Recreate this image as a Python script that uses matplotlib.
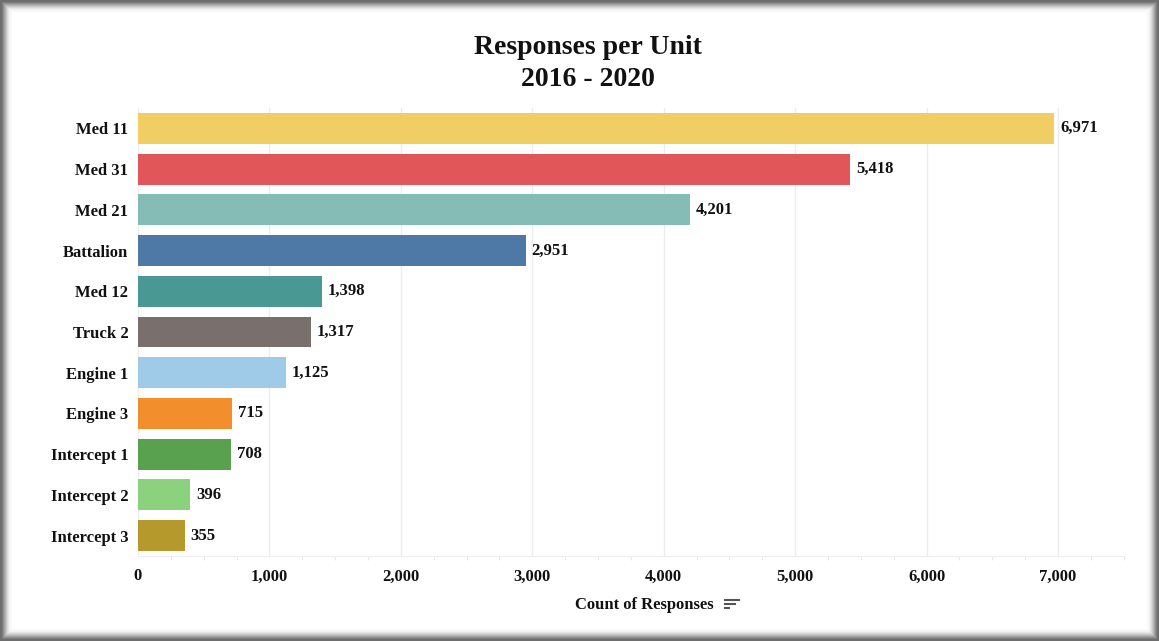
import matplotlib.pyplot as plt
import matplotlib.patches as mpatches
from matplotlib.ticker import FuncFormatter, MultipleLocator
import numpy as np

units = ['Med 11', 'Med 31', 'Med 21', 'Battalion', 'Med 12', 'Truck 2',
         'Engine 1', 'Engine 3', 'Intercept 1', 'Intercept 2', 'Intercept 3']
counts = [6971, 5418, 4201, 2951, 1398, 1317, 1125, 715, 708, 396, 355]
colors = ['#F1CE63', '#E15759', '#86BCB6', '#4E79A7', '#499894', '#79706E',
          '#A0CBE8', '#F28E2B', '#59A14F', '#8CD17D', '#B6992D']

plt.rcParams['font.family'] = ['Liberation Serif', 'DejaVu Serif']

fig = plt.figure(figsize=(11.59, 6.41), dpi=100)
fig.patch.set_facecolor('#6e6e6e')

# shadowed frame: layered rectangles fading to the white panel
W, H = 1159, 641
shades = ['#7e7e7e', '#909090', '#a3a3a3', '#b6b6b6', '#c8c8c8', '#d8d8d8', '#e6e6e6', '#f1f1f1', '#f8f8f8']
for i, c in enumerate(shades):
    x0, y0 = 2 + i, 2 + i
    fig.patches.append(mpatches.Rectangle((x0 / W, y0 / H), (W - 2 * x0) / W, (H - 2 * y0) / H,
                                          transform=fig.transFigure, facecolor=c, edgecolor='none', zorder=-2))
fig.patches.append(mpatches.Rectangle((12 / W, 12 / H), (W - 24) / W, (H - 24) / H,
                                      transform=fig.transFigure, facecolor='white', edgecolor='none', zorder=-1))

ax = fig.add_axes([138 / W, 1 - 556 / H, (1125 - 138) / W, (556 - 108) / H])
ax.set_facecolor('none')
ax.set_zorder(1)

y = np.arange(len(units))
ax.barh(y, counts, height=0.76, color=colors, zorder=2)
ax.set_ylim(len(units) - 0.5, -0.5)
ax.set_xlim(0, 7510)

for yi, v in zip(y, counts):
    ax.text(v + 45, yi, f'{v:,}', va='center', ha='left', fontsize=12,
            fontweight='bold', color='#111111')

ax.set_yticks(y)
ax.set_yticklabels(units, fontsize=12, fontweight='bold', color='#111111')
ax.xaxis.set_major_locator(MultipleLocator(1000))
ax.xaxis.set_minor_locator(MultipleLocator(250))
ax.xaxis.set_major_formatter(FuncFormatter(lambda v, p: f'{int(v):,}'))
for lab in ax.get_xticklabels():
    lab.set_fontweight('bold')
    lab.set_fontsize(12)
    lab.set_color('#111111')
ax.tick_params(axis='y', length=0, pad=7)
ax.tick_params(axis='x', which='major', length=0, pad=9)
ax.tick_params(axis='x', which='minor', length=3, color='#e6e6e6')
ax.grid(axis='x', which='major', color='#ececec', linewidth=1, zorder=0)

for s in ['top', 'right', 'left']:
    ax.spines[s].set_visible(False)
ax.spines['bottom'].set_color('#eeeeee')

# axis title placed explicitly, with the sort icon after it
fig.text(644 / W, 1 - 605 / H, 'Count of Responses', ha='center', va='center',
         fontsize=12, fontweight='bold', color='#111111')
for i, (l, r) in enumerate([(725, 739), (725, 735), (725, 729)]):
    fig.add_artist(plt.Line2D([l / W, r / W], [1 - (600 + i * 4) / H] * 2,
                              color='#555555', linewidth=1.5, transform=fig.transFigure))

fig.text(588 / W, 1 - 47 / H, 'Responses per Unit', ha='center', va='center',
         fontsize=20, fontweight='bold', color='#111111')
fig.text(588 / W, 1 - 79 / H, '2016 - 2020', ha='center', va='center',
         fontsize=20, fontweight='bold', color='#111111')

fig.savefig('out.png', dpi=100, facecolor=fig.get_facecolor())
